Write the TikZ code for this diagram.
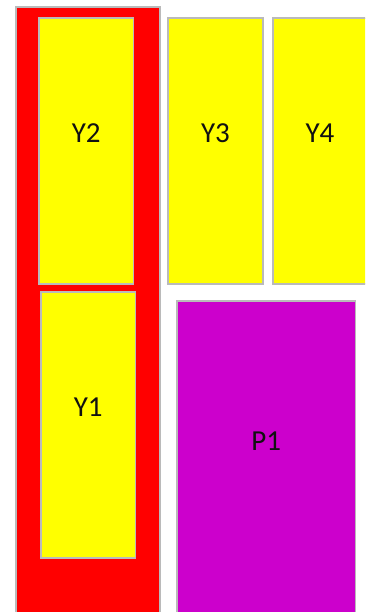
\documentclass[tikz,border=0pt]{standalone}
\usepackage{fontspec}
\setmainfont{Carlito}
\usepackage{xcolor}
\usepackage{tikz}
\usetikzlibrary{positioning}
\definecolor{cRed}{HTML}{FF0000}
\definecolor{cYellow}{HTML}{FFFF00}
\definecolor{cMagenta}{HTML}{CC00CC}
\definecolor{cEdge}{HTML}{BABABA}
\definecolor{cInk}{HTML}{111111}
\tikzset{
  box/.style={draw=cEdge,fill=#1,line width=1.6pt,rectangle,inner sep=0pt},
  box/.default=cYellow,
  tag/.style={font=\fontsize{29}{31}\selectfont,text=cInk,inner sep=0pt,yshift=18pt},
}
\begin{document}
\begin{tikzpicture}[x=1pt,y=-1pt,
          slot/.style={box=cYellow,minimum width=94.5pt,minimum height=266pt}]
        \useasboundingbox (0,0) rectangle (365,612);
        \clip (0,0) rectangle (365,612);
        \node[box=cRed,minimum width=144pt,minimum height=616pt] (rack) at (88,315) {};
        \foreach \x/\y/\t/\i in {86.25/151/Y2/y2,215.5/151/Y3/y3,320/151/Y4/y4,88.25/424.75/Y1/y1}{
          \node[slot,label={[tag]center:\t}] (\i) at (\x,\y) {};}
        \node[box=cMagenta,minimum width=178.5pt,minimum height=316pt,
              label={[tag]center:P1}] (p1) at (266.25,459) {};
      \end{tikzpicture}
\end{document}
